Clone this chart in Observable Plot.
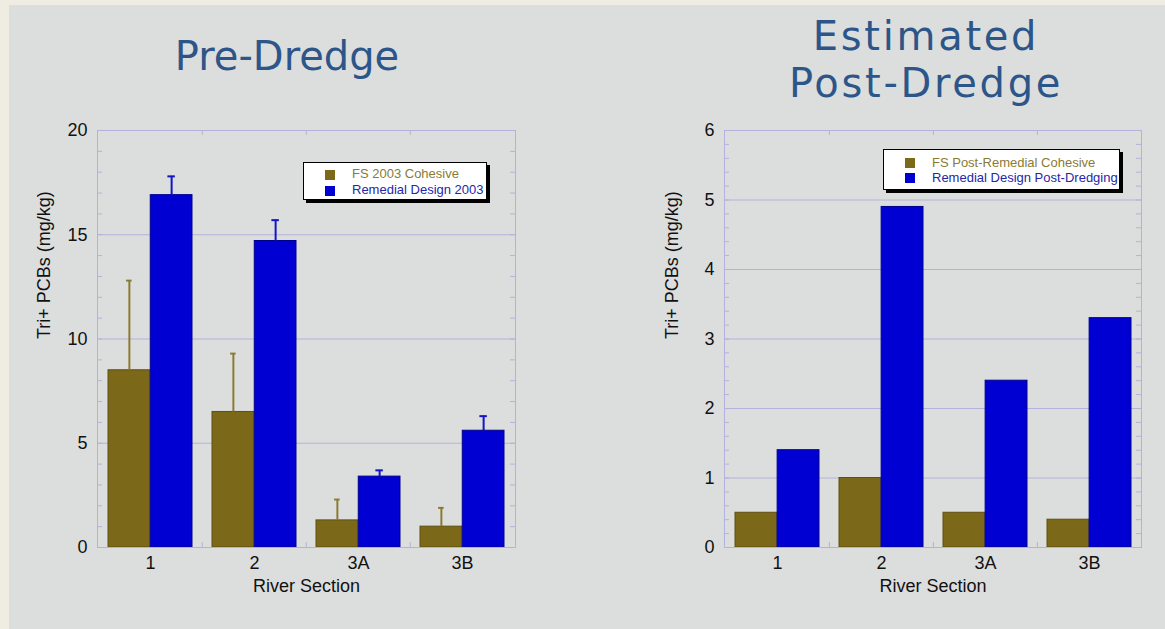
<!DOCTYPE html>
<html>
<head>
<meta charset="utf-8">
<script src="https://cdn.jsdelivr.net/npm/d3@7"></script>
<script src="https://cdn.jsdelivr.net/npm/@observablehq/plot@0.6"></script>
<style>
  html, body { margin: 0; padding: 0; background: #efede2; }
  #page { position: relative; width: 1165px; height: 629px; overflow: hidden; background: #efede2; }
  #panel { position: absolute; left: 9px; top: 5px; right: 0; bottom: 0; background: #dcdedd; }
  .title { position: absolute; width: 420px; text-align: center; font-family: "DejaVu Sans", sans-serif; font-size: 40px; color: #2c5689; white-space: nowrap; }
  .chart { position: absolute; }
  .legend { position: absolute; box-sizing: border-box; background: #fff; border: 1px solid #000; box-shadow: 3px 3px 0 #000; font-family: "Liberation Sans", Arial, sans-serif; font-size: 13px; }
  .legend .sw { position: absolute; width: 10px; height: 10px; }
  .legend .lt { position: absolute; line-height: 13px; white-space: nowrap; }
</style>
</head>
<body>
<div id="page">
  <div id="panel"></div>
  <div class="title" style="left:77px; top:32px; line-height:48px;">Pre-Dredge</div>
  <div class="title" style="left:716px; top:13px; line-height:47px; letter-spacing:2.7px;">Estimated<br>Post-Dredge</div>
  <div id="left" class="chart" style="left:0px; top:115px;"></div>
  <div id="right" class="chart" style="left:580px; top:115px;"></div>
  <div id="legL" class="legend" style="left:303px; top:162px; width:184px; height:38px;"></div>
  <div id="legR" class="legend" style="left:883px; top:149px; width:237px; height:41px;"></div>
</div>
<script>
// ---- Data ----
const sections = ["1", "2", "3A", "3B"];

// Pre-Dredge panel
const preSeries = ["FS 2003 Cohesive", "Remedial Design 2003"];
const preFS = [8.5, 6.5, 1.3, 1.0];
const preFSHigh = [12.8, 9.3, 2.3, 1.9];
const preRD = [16.9, 14.7, 3.4, 5.6];
const preRDHigh = [17.8, 15.7, 3.7, 6.3];
const preTicks = [0, 5, 10, 15, 20];

// Estimated Post-Dredge panel
const postSeries = ["FS Post-Remedial Cohesive", "Remedial Design Post-Dredging"];
const postFS = [0.5, 1.0, 0.5, 0.4];
const postRD = [1.4, 4.9, 2.4, 3.3];
const postTicks = [0, 1, 2, 3, 4, 5, 6];

const yLabel = "Tri+ PCBs (mg/kg)";
const xLabel = "River Section";

// ---- Style ----
const BROWN = "#7c6819", BROWN_EDGE = "#5f4f12", BROWN_ERR = "#8c7a30", BROWN_TXT = "#8a7a35";
const BLUE = "#0000d2", BLUE_EDGE = "#00008e", BLUE_ERR = "#1414c8", BLUE_TXT = "#2626a8";
const LAV = "#b2b2dc";

function makeChart({W, H, ml, mr, mt, mb, ymax, ticks, minorStep, fs, fsHigh, rd, rdHigh, yLabelDx}) {
  const fw = W - ml - mr, fh = H - mt - mb;
  const half = fw / sections.length / 2;
  const pad = 10;
  const off = (half - pad) / 2;
  const fsRows = sections.map((s, i) => ({section: s, v: fs[i], hi: fsHigh ? fsHigh[i] : null}));
  const rdRows = sections.map((s, i) => ({section: s, v: rd[i], hi: rdHigh ? rdHigh[i] : null}));
  const minor = d3.range(0, ymax + minorStep / 2, minorStep);
  const grid = ticks.filter(t => t > 0 && t < ymax);
  const marks = [
    Plot.ruleY(grid, {y: d => d, stroke: LAV, strokeWidth: 1}),
    Plot.ruleY(minor, {y: d => d, stroke: LAV, strokeWidth: 1, insetRight: fw - 5}),
    Plot.ruleY(minor, {y: d => d, stroke: LAV, strokeWidth: 1, insetLeft: fw - 5}),
    Plot.ruleX(sections.slice(1), {x: d => d, dx: -half, stroke: LAV, insetTop: fh - 5}),
    Plot.ruleX(sections.slice(1), {x: d => d, dx: -half, stroke: LAV, insetBottom: fh - 5}),
    Plot.barY(fsRows, {x: "section", y: "v", fill: BROWN, stroke: BROWN_EDGE, strokeWidth: 1, insetLeft: pad, insetRight: half}),
    Plot.barY(rdRows, {x: "section", y: "v", fill: BLUE, stroke: BLUE_EDGE, strokeWidth: 1, insetLeft: half, insetRight: pad}),
  ];
  if (fsHigh) {
    marks.push(
      Plot.ruleX(fsRows, {x: "section", y1: "v", y2: "hi", dx: -off, stroke: BROWN_ERR, strokeWidth: 2}),
      Plot.tickY(fsRows, {x: "section", y: "hi", dx: -off, stroke: BROWN_ERR, strokeWidth: 2, insetLeft: half - 3, insetRight: half - 3})
    );
  }
  if (rdHigh) {
    marks.push(
      Plot.ruleX(rdRows, {x: "section", y1: "v", y2: "hi", dx: off, stroke: BLUE_ERR, strokeWidth: 2}),
      Plot.tickY(rdRows, {x: "section", y: "hi", dx: off, stroke: BLUE_ERR, strokeWidth: 2, insetLeft: half - 4, insetRight: half - 4})
    );
  }
  marks.push(
    Plot.frame({stroke: LAV, strokeWidth: 1}),
    Plot.axisY({ticks, tickFormat: d3.format("d"), tickSize: 0, tickPadding: 10, label: null, fontSize: 18}),
    Plot.axisX({tickSize: 0, tickPadding: 9, label: null, fontSize: 18}),
    Plot.text([yLabel], {frameAnchor: "left", lineAnchor: "middle", rotate: -90, dx: yLabelDx, fontSize: 18, fill: "#111"}),
    Plot.text([xLabel], {frameAnchor: "bottom", lineAnchor: "middle", dy: 39, fontSize: 18, fill: "#111"})
  );
  return Plot.plot({
    width: W, height: H,
    marginLeft: ml, marginRight: mr, marginTop: mt, marginBottom: mb,
    x: {domain: sections, padding: 0, axis: null},
    y: {domain: [0, ymax], axis: null},
    style: {background: "transparent", color: "#111", fontFamily: "'Liberation Sans', Arial, sans-serif", fontSize: "18px", overflow: "visible"},
    marks
  });
}

document.getElementById("left").appendChild(makeChart({
  W: 560, H: 500, ml: 97, mr: 45, mt: 15, mb: 68, ymax: 20, ticks: preTicks, minorStep: 1,
  fs: preFS, fsHigh: preFSHigh, rd: preRD, rdHigh: preRDHigh, yLabelDx: -53
}));
document.getElementById("right").appendChild(makeChart({
  W: 585, H: 500, ml: 144, mr: 24, mt: 15, mb: 68, ymax: 6, ticks: postTicks, minorStep: 0.2,
  fs: postFS, fsHigh: null, rd: postRD, rdHigh: null, yLabelDx: -52
}));

function legend(el, names, rows) {
  const colors = [[BROWN, BROWN_TXT], [BLUE, BLUE_TXT]];
  names.forEach((n, i) => {
    const sw = document.createElement("div");
    sw.className = "sw";
    sw.style.left = "21px"; sw.style.top = rows[i].sw + "px";
    sw.style.background = colors[i][0];
    el.appendChild(sw);
    const t = document.createElement("div");
    t.className = "lt";
    t.style.left = "48px"; t.style.top = rows[i].t + "px";
    t.style.color = colors[i][1];
    t.textContent = n;
    el.appendChild(t);
  });
}
legend(document.getElementById("legL"), preSeries, [{sw: 7, t: 4}, {sw: 23, t: 20}]);
legend(document.getElementById("legR"), postSeries, [{sw: 8, t: 6}, {sw: 23, t: 21}]);
</script>
</body>
</html>
